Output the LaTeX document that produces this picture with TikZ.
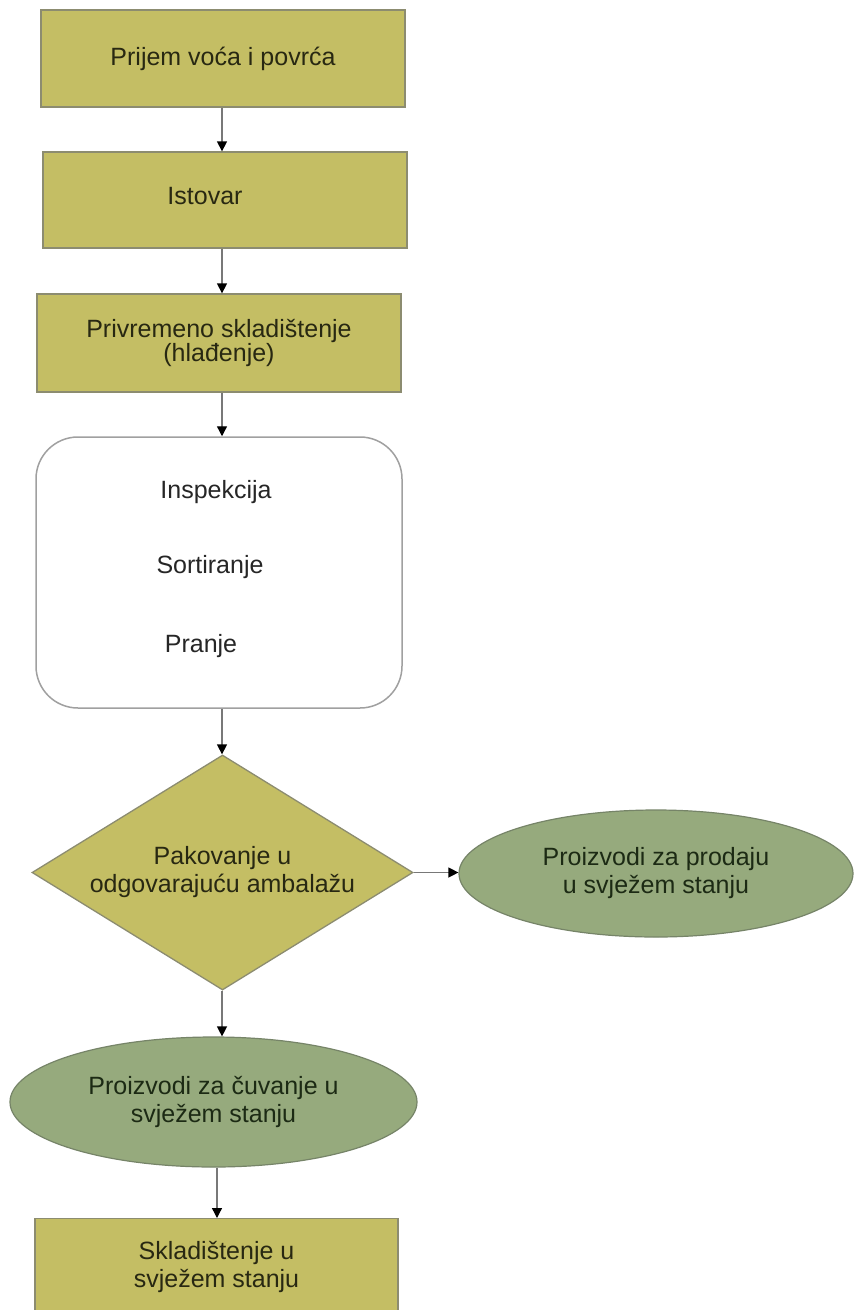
\documentclass[tikz,border=0pt]{standalone}
\usepackage{fontspec}
\setmainfont{Liberation Sans}
\usetikzlibrary{shapes.geometric,arrows.meta}
\definecolor{olivefill}{RGB}{196,190,100}
\definecolor{olivedraw}{RGB}{140,140,112}
\definecolor{greenfill}{RGB}{150,170,125}
\definecolor{greendraw}{RGB}{118,132,104}
\definecolor{txtdark}{RGB}{40,40,18}
\definecolor{txtgreen}{RGB}{28,42,20}
\definecolor{arrgray}{RGB}{120,120,120}
\definecolor{procdraw}{RGB}{160,160,160}
\tikzset{
  x=1pt, y=-1pt,
  basefont/.style={font=\fontsize{25}{28}\selectfont},
  olivebox/.style={rectangle, draw=olivedraw, fill=olivefill, line width=1.3pt,
    inner sep=0pt, minimum width=364pt, basefont, text=txtdark, align=center},
  greenell/.style={ellipse, draw=greendraw, fill=greenfill, line width=1.2pt,
    inner sep=0pt, basefont, text=txtgreen, align=center},
  procbox/.style={rectangle, rounded corners=42pt, draw=procdraw, line width=1.5pt,
    fill=white, inner sep=0pt},
  plaintext/.style={basefont, text=black!85, inner sep=0pt},
  arr/.style={draw=arrgray, line width=1.3pt, -{Triangle[width=10pt,length=10pt,black]}}
}
\begin{document}
\begin{tikzpicture}
\useasboundingbox (0,0) rectangle (854,1310);
\clip (0,0) rectangle (854,1310);
\fill[white] (0,0) rectangle (854,1310);

\coordinate (ax) at (222,0);
\coordinate (bx) at (217,0);

\node[olivebox, minimum height=97pt] (b1) at (223,58.5) {Prijem voća i povrća};
\node[olivebox, minimum height=96pt,
  label={[basefont, text=txtdark, xshift=-20pt, yshift=4pt]center:Istovar}] (b2) at (225,200) {};
\node[olivebox, minimum height=98pt, font=\fontsize{25}{23}\selectfont] (b3) at (219,343)
  {Privremeno skladištenje\\(hlađenje)};

\node[procbox, minimum width=366pt, minimum height=271pt] (proc) at (219,572.5) {};
\node[plaintext] (t1) at (216,492) {Inspekcija};
\node[plaintext] (t2) at (210,567) {Sortiranje};
\node[plaintext] (t3) at (201,646) {Pranje};

\node[diamond, aspect=1.62, draw=olivedraw, fill=olivefill, line width=1.3pt,
  inner sep=0pt, minimum width=381pt, minimum height=235pt, basefont, text=txtdark,
  align=center] (dia) at (222.5,872.5) {Pakovanje u\\odgovarajuću ambalažu};

\node[greenell, minimum width=394pt, minimum height=127pt] (e1) at (656,873.5)
  {Proizvodi za prodaju\\u svježem stanju};

\node[greenell, minimum width=407pt, minimum height=130pt] (e2) at (213.5,1102)
  {Proizvodi za čuvanje u\\svježem stanju};

\node[olivebox, minimum width=363pt, minimum height=96pt, anchor=north] (b4) at (216.5,1218)
  {Skladištenje u\\svježem stanju};

\draw[arr] (b1.south -| ax) -- (b2.north -| ax);
\draw[arr] (b2.south -| ax) -- (b3.north -| ax);
\draw[arr] (b3.south -| ax) -- (proc.north -| ax);
\draw[arr] (proc.south -| ax) -- (dia.north -| ax);
\draw[arr] (dia.south -| ax) -- (e2.north -| ax);
\draw[arr] (dia.east) -- (dia.east -| e1.west);
\draw[arr] (e2.south -| bx) -- (b4.north -| bx);
\end{tikzpicture}
\end{document}
